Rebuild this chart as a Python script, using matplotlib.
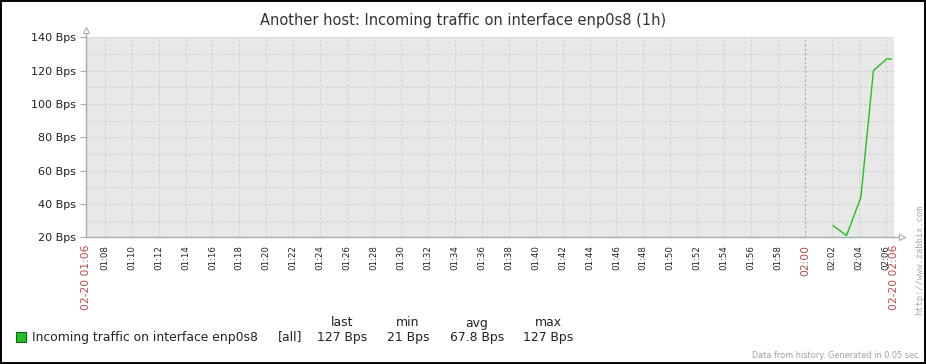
import matplotlib
matplotlib.use("Agg")
import matplotlib.pyplot as plt
from matplotlib.patches import Rectangle

W, H = 926, 364

title = "Another host: Incoming traffic on interface enp0s8 (1h)"
series_name = "Incoming traffic on interface enp0s8"
date_label = "02-20"
start_time = "01:06:38"
end_time = "02:06:38"
times = ["02:02:06", "02:03:05", "02:04:09", "02:05:05", "02:06:04", "02:06:24"]
values = [27, 21, 44, 120, 127, 127]
y_ticks = [20, 40, 60, 80, 100, 120, 140]
y_minor = [30, 50, 70, 90, 110, 130]
stat_headers = ["last", "min", "avg", "max"]
stat_values = ["127 Bps", "21 Bps", "67.8 Bps", "127 Bps"]


def to_min(t):
    h, m, s = [int(v) for v in t.split(":")]
    return h * 60 + m + s / 60.0


def px(x, y):
    return x / W, 1 - y / H


x0, x1 = to_min(start_time), to_min(end_time)
xs = [to_min(t) for t in times]

fig = plt.figure(figsize=(W / 100, H / 100), dpi=100)
L, R, T, B = 86.3, 894.3, 37.3, 237.3
ax = fig.add_axes([L / W, 1 - B / H, (R - L) / W, (B - T) / H])
ax.set_facecolor("#e8e8e8")
ax.set_xlim(x0, x1)
ax.set_ylim(20, 140)

grid_kw = dict(linestyle=(0, (2, 2)), linewidth=0.8, zorder=1)
grid_minutes = list(range(int(x0) + 2 - (int(x0) % 2), int(x1) + 1, 2))
for m in grid_minutes:
    ax.axvline(m, color="#aaaaaa" if m % 60 == 0 else "#cfcfcf", **grid_kw)
for v in y_ticks[1:] + y_minor:
    ax.axhline(v, color="#cfcfcf", **grid_kw)

ax.plot(xs, values, color="#1fc21f", linewidth=1.0, zorder=3)

for s in ["top", "right"]:
    ax.spines[s].set_visible(False)
axis_col = "#a4acb4"
for s in ["left", "bottom"]:
    ax.spines[s].set_color(axis_col)
    ax.spines[s].set_linewidth(1.0)

ax.plot([0, 0], [1, 1.03], transform=ax.transAxes, color=axis_col, lw=1.0, clip_on=False)
ax.plot([0], [1.037], marker="^", markersize=5, markerfacecolor="white",
        markeredgecolor=axis_col, markeredgewidth=0.8, transform=ax.transAxes, clip_on=False)
ax.plot([1, 1.006], [0, 0], transform=ax.transAxes, color=axis_col, lw=1.0, clip_on=False)
ax.plot([1.009], [0], marker=">", markersize=5, markerfacecolor="white",
        markeredgecolor=axis_col, markeredgewidth=0.8, transform=ax.transAxes, clip_on=False)

ax.set_yticks(y_ticks)
ax.set_yticklabels([f"{v} Bps" for v in y_ticks], fontsize=8, color="#222222")
ax.tick_params(axis="y", length=4, width=0.8, color=axis_col, pad=3.5)

xt = [x0] + grid_minutes + [x1]
xl = []
for m in xt:
    if m in (x0, x1):
        mm = int(m)
        xl.append(f"{date_label} {mm // 60:02d}:{mm % 60:02d}")
    else:
        xl.append(f"{m // 60:02d}:{m % 60:02d}")
ax.set_xticks(xt)
ax.set_xticklabels(xl, rotation=90, fontsize=6.2, color="#222222", va="top", ha="center")
ax.tick_params(axis="x", length=0, pad=5.5)
for lab, m in zip(ax.get_xticklabels(), xt):
    if m in (x0, x1) or (isinstance(m, int) and m % 60 == 0):
        lab.set_color("#c04646")
        lab.set_fontsize(7.7)

fig.text(*px(463, 20), title, fontsize=10.5, color="#333333", ha="center", va="center")

fs = 8.9
lx, ly = px(16, 342)
fig.patches.append(Rectangle((lx, ly), 10 / W, 10 / H, transform=fig.transFigure,
                             facecolor="#1fc21f", edgecolor="#1a5c1a", linewidth=0.8))
fig.text(*px(32, 337), series_name, fontsize=fs, color="#222222", ha="left", va="center")
fig.text(*px(278, 337), "[all]", fontsize=fs, color="#222222", ha="left", va="center")
centers = [342, 408, 477, 548]
for c, h, v in zip(centers, stat_headers, stat_values):
    fig.text(*px(c, 323), h, fontsize=fs, color="#222222", ha="center", va="center")
    fig.text(*px(c, 337), v, fontsize=fs, color="#222222", ha="center", va="center")

fig.text(*px(920, 260), "http://www.zabbix.com", fontsize=6.3, family="DejaVu Sans Mono",
         color="#aaaaaa", rotation=90, ha="center", va="center")
fig.text(*px(921, 355), "Data from history. Generated in 0.05 sec.", fontsize=5.9,
         color="#a0a0a0", ha="right", va="center")

fig.patches.append(Rectangle((0, 0), 1, 1, transform=fig.transFigure, fill=False,
                             edgecolor="black", linewidth=2.8))

fig.savefig("out.png", dpi=100)
